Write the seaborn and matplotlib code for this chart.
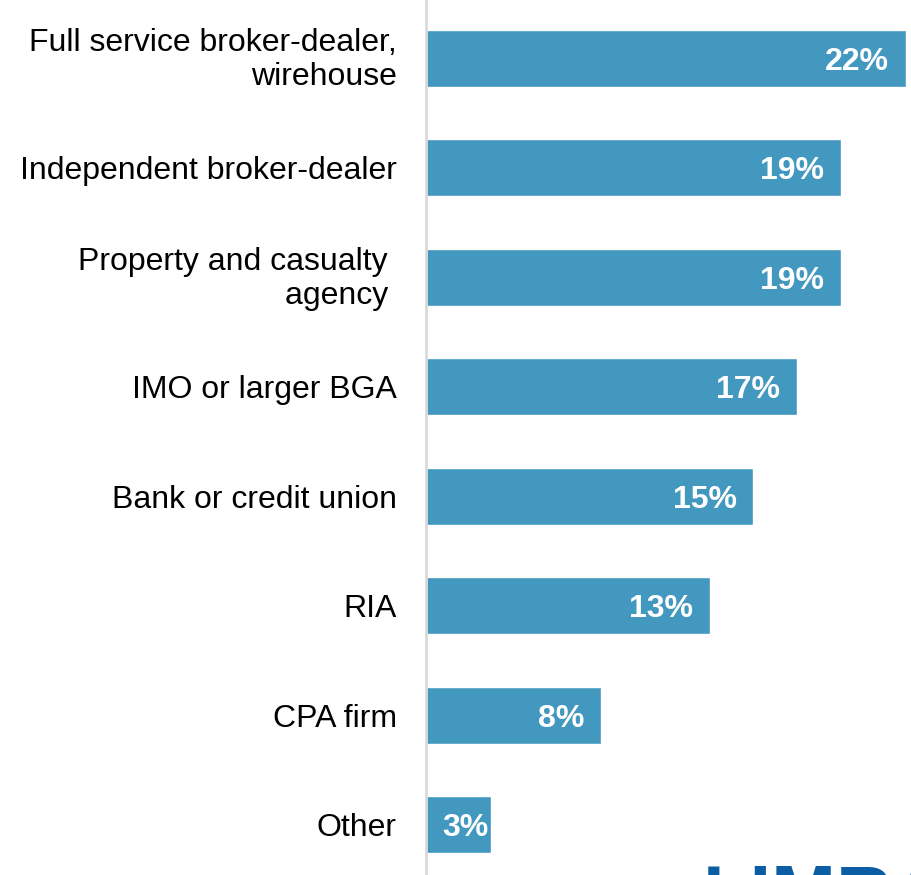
import matplotlib
matplotlib.use("Agg")
import matplotlib.pyplot as plt
import matplotlib.transforms as mtransforms
import seaborn as sns
import pandas as pd

categories = [
    "Full service broker-dealer,\nwirehouse",
    "Independent broker-dealer",
    "Property and casualty \nagency ",
    "IMO or larger BGA",
    "Bank or credit union",
    "RIA",
    "CPA firm",
    "Other",
]
shares = [22, 19, 19, 17, 15, 13, 8, 3]
value_labels = ["22%", "19%", "19%", "17%", "15%", "13%", "8%", "3%"]

sns.set_theme(style="white")
plt.rcParams["font.family"] = ["Liberation Sans", "DejaVu Sans"]

df = pd.DataFrame({"channel": categories, "share": shares})

W, H = 912, 875
fig = plt.figure(figsize=(W / 100, H / 100), dpi=100)
ax = fig.add_axes([426 / W, 0, 1 - 426 / W, 1])

sns.barplot(data=df, y="channel", x="share", orient="h", color="#4398C0",
            saturation=1, width=0.52, ax=ax)

px_per_unit = 480 / 22
ax.set_xlim(0, (W - 426) / px_per_unit)
ax.set_ylim(7 + (875 - 825) / 109.5, -58 / 109.5)

# value labels sit inside the bar end; short bars get a smaller inset
for i, (v, lab) in enumerate(zip(shares, value_labels)):
    inset = -12 if v > 5 else -2
    ax.annotate(lab, xy=(v, i), xytext=(inset, -2.5), textcoords="offset points",
                ha="right", va="center", color="white", fontsize=23,
                fontweight="bold")

ax.set_xlabel("")
ax.set_ylabel("")
ax.set_xticks([])
ax.tick_params(axis="y", length=0, pad=21, labelsize=23, labelcolor="black")
nudge = mtransforms.ScaledTranslation(0, -2 / 100, fig.dpi_scale_trans)
for lbl in ax.get_yticklabels():
    lbl.set_horizontalalignment("right")
    if "\n" in lbl.get_text():
        lbl.set_linespacing(1.18)
        lbl.set_verticalalignment("center")
        lbl.set_transform(lbl.get_transform() + nudge)
for s in ["top", "right", "bottom"]:
    ax.spines[s].set_visible(False)
ax.spines["left"].set_color("#d9d9d9")
ax.spines["left"].set_linewidth(2)

# company wordmark peeking in at the bottom edge
fig.text(703 / W, -44 / H, "LIMRA", ha="left", va="baseline", fontsize=56,
         fontweight="bold", color="#0B5EA3")

fig.savefig("out.png", dpi=100)
